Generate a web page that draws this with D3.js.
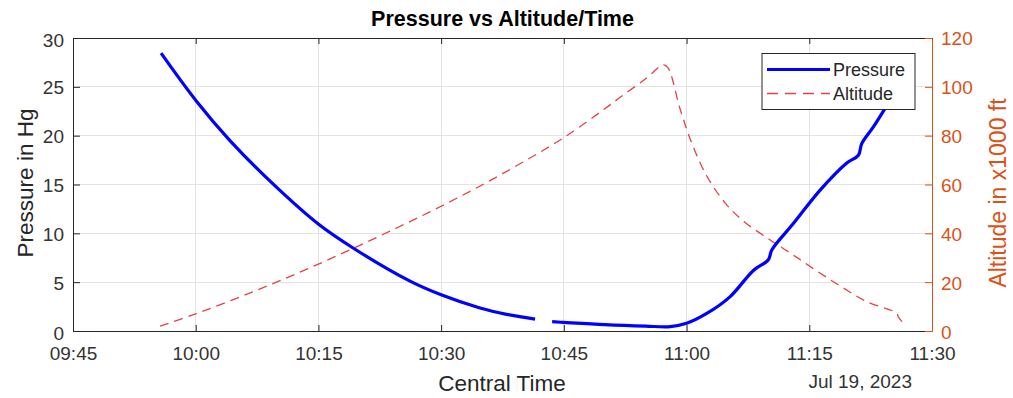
<!DOCTYPE html>
<html><head><meta charset="utf-8">
<script src="https://cdn.jsdelivr.net/npm/d3@7"></script>
<style>
html,body{margin:0;padding:0;background:#fff;}
svg{display:block;font-family:"Liberation Sans",Arial,sans-serif;}
</style></head>
<body>
<svg id="chart" width="1013" height="398"></svg>
<script>
// ---- data ----
const dateStr = "2023-07-19";
const pressureTimes = ["09:55:46","10:00:07","10:04:11","10:09:54","10:15:04","10:19:14","10:26:12","10:30:00","10:34:45","10:38:00","10:40:00","10:41:29",
  null,
  "10:43:34","10:45:00","10:50:00","10:55:00","10:58:00","11:00:00","11:02:28","11:05:18","11:08:10","11:10:00","11:10:25","11:13:03","11:16:18","11:19:35","11:21:00","11:21:25","11:22:50","11:24:16","11:25:29"];
const pressureValues = [28.45,23.5,19.5,14.7,10.9,8.5,5.1,3.7,2.35,1.7,1.42,1.22,
  null,
  0.95,0.88,0.65,0.5,0.45,0.79,1.8,3.5,6.2,7.3,8.3,11.0,14.4,17.2,18.0,19.2,20.9,22.8,24.5];
const altitudeTimes = ["09:55:38","10:00:00","10:05:00","10:10:00","10:15:00","10:20:00","10:25:00","10:30:00","10:35:00","10:40:00","10:45:00","10:50:00","10:52:00","10:55:00","10:57:10","10:57:44","10:59:12","11:00:38","11:02:28","11:04:42","11:06:57","11:10:13","11:13:03","11:15:55","11:19:10","11:22:02","11:25:42","11:25:52","11:26:28"];
const altitudeValues = [2.0,7.0,13.4,20.2,27.4,35.0,42.9,51.1,59.8,69.2,79.2,91.0,96.0,103.3,109.0,107.8,91.0,77.0,63.5,52.5,45.0,37.3,31.1,24.6,17.6,12.0,7.3,5.9,3.3];
const xTickLabels = ["09:45","10:00","10:15","10:30","10:45","11:00","11:15","11:30"];
const leftTicks = [0,5,10,15,20,25,30];
const rightTicks = [0,20,40,60,80,100,120];
const seriesNames = ["Pressure","Altitude"];

// ---- layout ----
const svg = d3.select("#chart");
const L = 73, R = 932, T = 38, B = 331;
const parse = d3.timeParse("%Y-%m-%d %H:%M:%S");
const pt = s => parse(dateStr + " " + (s.length === 5 ? s + ":00" : s));
const x = d3.scaleTime().domain([pt("09:45"), pt("11:30")]).range([L, R]);
const yL = d3.scaleLinear().domain([0, 30]).range([B, T]);
const yR = d3.scaleLinear().domain([0, 120]).range([B, T]);
const textCol = "#262626", orange = "#D95319", gridCol = "#e3e3e3";
const tickFont = 19;

const xTicks = xTickLabels.map(pt);

// grid
const g = svg.append("g");
g.selectAll(".vg").data(xTicks).enter().append("line")
  .attr("x1", d => x(d)).attr("x2", d => x(d)).attr("y1", T).attr("y2", B)
  .attr("stroke", gridCol).attr("stroke-width", 1).attr("shape-rendering","crispEdges");
g.selectAll(".hg").data(leftTicks).enter().append("line")
  .attr("x1", L).attr("x2", R).attr("y1", d => yL(d)).attr("y2", d => yL(d))
  .attr("stroke", gridCol).attr("stroke-width", 1).attr("shape-rendering","crispEdges");

// data lines
const pData = pressureTimes.map((t, i) => ({t: t ? pt(t) : null, v: pressureValues[i]}));
const aData = altitudeTimes.map((t, i) => ({t: pt(t), v: altitudeValues[i]}));
const lineP = d3.line().defined(d => d.t !== null && d.v !== null).x(d => x(d.t)).y(d => yL(d.v)).curve(d3.curveCatmullRom.alpha(0.5));
const lineA = d3.line().x(d => x(d.t)).y(d => yR(d.v)).curve(d3.curveCatmullRom.alpha(0.5));
svg.append("path").datum(aData).attr("d", lineA).attr("fill","none")
  .attr("stroke","#e8404a").attr("stroke-width",1.3).attr("stroke-dasharray","9,6");
svg.append("path").datum(pData).attr("d", lineP).attr("fill","none")
  .attr("stroke","#0000ff").attr("stroke-width",3.2).attr("stroke-linejoin","round");

// axes
const xAxisB = d3.axisBottom(x).tickValues(xTicks).tickFormat(d3.timeFormat("%H:%M")).tickSizeInner(-6).tickSizeOuter(0).tickPadding(16);
const gx = svg.append("g").attr("transform", `translate(0,${B})`).call(xAxisB);
const xAxisT = d3.axisTop(x).tickValues(xTicks).tickFormat("").tickSizeInner(-6).tickSizeOuter(0);
const gxt = svg.append("g").attr("transform", `translate(0,${T})`).call(xAxisT);
const yAxisL = d3.axisLeft(yL).tickValues(leftTicks).tickSizeInner(-7).tickSizeOuter(0).tickPadding(9);
const gyl = svg.append("g").attr("transform", `translate(${L},0)`).call(yAxisL);
const yAxisR = d3.axisRight(yR).tickValues(rightTicks).tickSizeInner(-7).tickSizeOuter(0).tickPadding(9);
const gyr = svg.append("g").attr("transform", `translate(${R},0)`).call(yAxisR);

[gx, gxt, gyl].forEach(a => {
  a.selectAll("path.domain").attr("stroke", textCol).attr("stroke-width", 1);
  a.selectAll(".tick line").attr("stroke", textCol);
  a.selectAll("text").attr("fill", "#333").attr("font-size", tickFont).attr("font-family","Liberation Sans, Arial, sans-serif");
});
gyr.selectAll("path.domain").attr("stroke", orange).attr("stroke-width", 1);
gyr.selectAll(".tick line").attr("stroke", orange);
gyr.selectAll("text").attr("fill", orange).attr("font-size", tickFont).attr("font-family","Liberation Sans, Arial, sans-serif");
gyl.selectAll("text").attr("dy", "0.36em");
gyl.selectAll(".tick").filter(d => d === 0).select("text").attr("transform","translate(0,2)");
gyl.selectAll(".tick").filter(d => d === 30).select("text").attr("transform","translate(0,2)");
gyr.selectAll("text").attr("dy", "0.36em");
gyr.selectAll(".tick").filter(d => d === 0).select("text").attr("transform","translate(0,1)");

// titles
svg.append("text").attr("x", (L + R) / 2).attr("y", 26).attr("text-anchor","middle")
  .attr("font-weight","bold").attr("font-size",21.5).attr("fill","#000").text("Pressure vs Altitude/Time");
svg.append("text").attr("transform","translate(33,183) rotate(-90)").attr("text-anchor","middle")
  .attr("font-size",22.5).attr("fill",textCol).text("Pressure in Hg");
svg.append("text").attr("transform","translate(1006,193) rotate(-90)").attr("text-anchor","middle")
  .attr("font-size",23).attr("fill",orange).text("Altitude in x1000 ft");
svg.append("text").attr("x", 502).attr("y", 391).attr("text-anchor","middle")
  .attr("font-size",22.5).attr("fill",textCol).text("Central Time");
svg.append("text").attr("x", 912).attr("y", 388).attr("text-anchor","end")
  .attr("font-size",tickFont).attr("fill","#333").text("Jul 19, 2023");

// legend
const lg = svg.append("g");
lg.append("rect").attr("x",762).attr("y",53.5).attr("width",153).attr("height",56)
  .attr("fill","#fff").attr("stroke",textCol).attr("stroke-width",1);
const lgY = [69.5, 93.5];
lg.append("line").attr("x1",767).attr("x2",830).attr("y1",lgY[0]).attr("y2",lgY[0])
  .attr("stroke","#0000ff").attr("stroke-width",3.2);
lg.append("line").attr("x1",767).attr("x2",830).attr("y1",lgY[1]).attr("y2",lgY[1])
  .attr("stroke","#e8404a").attr("stroke-width",1.3).attr("stroke-dasharray","11,7");
seriesNames.forEach((n, i) => lg.append("text").attr("x",833).attr("y",lgY[i] + 6.5)
  .attr("font-size",18).attr("fill",textCol).text(n));
</script>
</body></html>
